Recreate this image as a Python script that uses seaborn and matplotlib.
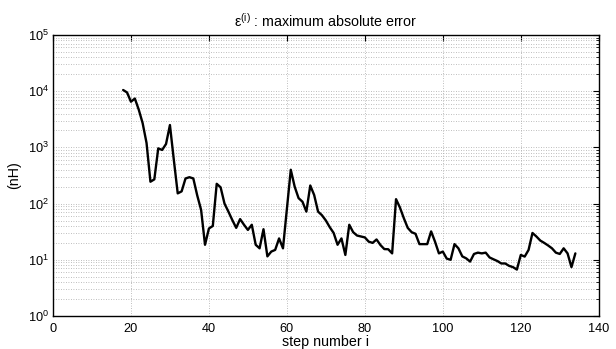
import numpy as np
import pandas as pd
import matplotlib
matplotlib.use("Agg")
import matplotlib.pyplot as plt
import seaborn as sns
from matplotlib.ticker import LogLocator, NullFormatter, MultipleLocator

# Maximum absolute error per step (nH)
steps = list(range(18, 135))
max_abs_error = [
    10500, 9500, 6500, 7400, 4700, 2700, 1200, 245, 270, 960,
    900, 1150, 2500, 600, 152, 165, 280, 295, 280, 140,
    77, 18.5, 36, 40, 225, 195, 100, 72, 51, 37,
    53, 42, 34, 42, 18.5, 16, 35, 11.5, 14, 15,
    24, 16, 80, 400, 200, 125, 108, 72, 210, 142,
    72, 62, 50, 38, 30, 18.5, 24, 12.2, 42, 31,
    27, 26, 25, 21, 20, 23, 18.3, 15.5, 15.4, 13,
    120, 85, 55, 37, 31, 29, 19, 19, 19, 32,
    21, 13, 14, 10.5, 10, 19, 16, 11.5, 10.6, 9.3,
    12.7, 13.4, 13, 13.4, 11, 10.2, 9.5, 8.6, 8.6, 7.8,
    7.4, 6.7, 12.2, 11.4, 15, 30, 26, 22, 20, 18,
    16, 13.4, 12.7, 16, 13, 7.4, 13,
]
x_ticks = [0, 20, 40, 60, 80, 100, 120, 140]

df = pd.DataFrame({"step": steps, "err": max_abs_error})

sns.set_theme(style="white")
plt.rcParams["font.family"] = ["Liberation Sans", "DejaVu Sans"]
plt.rcParams["mathtext.default"] = "regular"
plt.rcParams["mathtext.fontset"] = "custom"
plt.rcParams["mathtext.rm"] = "Liberation Sans"
plt.rcParams["mathtext.it"] = "Liberation Sans"

fig = plt.figure(figsize=(6.16, 3.49), dpi=100)
ax = fig.add_axes([0.086, 0.0946, 0.886, 0.8051])

sns.lineplot(data=df, x="step", y="err", ax=ax, color="black", linewidth=1.7)

ax.set_yscale("log")
ax.set_xlim(0, 140)
ax.set_ylim(1, 1e5)
ax.set_xticks(x_ticks)
ax.yaxis.set_major_locator(LogLocator(base=10, numticks=10))
ax.yaxis.set_minor_locator(LogLocator(base=10, subs=np.arange(2, 10), numticks=20))
ax.yaxis.set_minor_formatter(NullFormatter())
ax.xaxis.set_minor_locator(MultipleLocator(20))

grid_style = dict(linestyle=(0, (1, 2)), color="#a8a8a8", linewidth=0.6)
ax.grid(True, which="major", axis="both", **grid_style)
ax.grid(True, which="minor", axis="y", **grid_style)
ax.set_axisbelow(True)

for s in ax.spines.values():
    s.set_color("black")
    s.set_linewidth(1.0)

ax.tick_params(axis="both", which="both", direction="in", top=True, right=True,
               colors="black", labelsize=9.2)
ax.tick_params(axis="x", pad=5)
ax.tick_params(axis="y", pad=3)
ax.tick_params(which="major", length=4, width=0.8)
ax.tick_params(which="minor", length=2, width=0.6)
ax.tick_params(axis="x", which="minor", length=0)

ax.set_xlabel("step number i", fontsize=10.3, labelpad=0, color="black")
ax.set_ylabel("(nH)", fontsize=10.3, labelpad=5, color="black")
ax.set_title("ε$^{(i)}$ : maximum absolute error", fontsize=10.3, pad=6, color="black")

fig.savefig("out.png", dpi=100, facecolor="white")
